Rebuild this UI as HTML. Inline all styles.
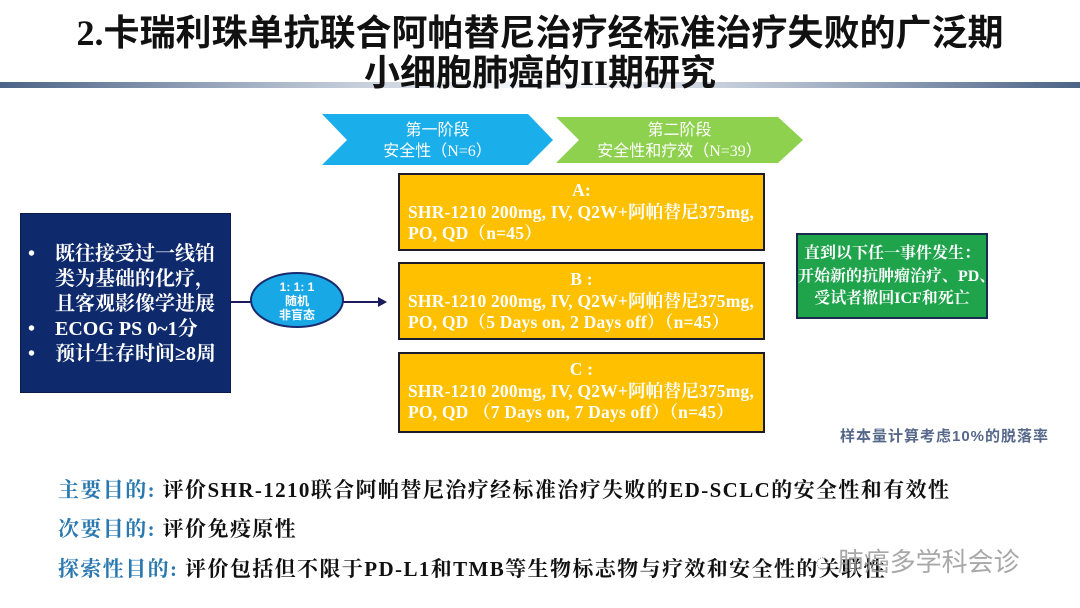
<!DOCTYPE html>
<html><head><meta charset="utf-8"><style>
*{margin:0;padding:0;box-sizing:border-box}
body{width:1080px;height:608px;background:#fff;position:relative;overflow:hidden;font-family:"Liberation Serif","Noto Serif CJK SC",serif}
.abs{position:absolute}
.title{left:0;width:1080px;text-align:center;font-size:36px;font-weight:bold;color:#111;font-family:"Liberation Serif","Noto Sans CJK SC",serif;line-height:40px}
.box{position:absolute;background:#ffc000;border:2px solid #1b1b2b;color:#fff;font-weight:bold;font-size:17.5px;line-height:21.5px;padding:5px 0 0 8px;letter-spacing:0.2px;white-space:nowrap}
.box .h{text-align:center;padding-right:8px}
.bt{left:58px;font-size:21px;line-height:24px;color:#111;font-weight:bold;letter-spacing:1.4px;white-space:nowrap}
.bt span{color:#2a78b0}
</style></head><body>
<div class="abs" style="left:0;top:82px;width:1080px;height:6px;background:linear-gradient(90deg,#4b6386 0%,#aab6c8 25%,#eef1f5 45%,#eef1f5 55%,#aab6c8 75%,#4b6386 100%)"></div>
<div class="abs title" style="top:13px">2.卡瑞利珠单抗联合阿帕替尼治疗经标准治疗失败的广泛期</div>
<div class="abs title" style="top:53px">小细胞肺癌的II期研究</div>

<svg class="abs" style="left:0;top:0" width="1080" height="608">
<polygon points="322,114 528,114 553,140 528,165 322,165 347,140" fill="#1aaeea"/>
<polygon points="556,117 778,117 803,140 778,163 556,163 579,140" fill="#8ed14f"/>
<line x1="230" y1="302" x2="380" y2="302" stroke="#1a1a5e" stroke-width="2"/>
<polygon points="378,297 387,302 378,307" fill="#1a1a5e"/>
<ellipse cx="297" cy="300" rx="46" ry="27" fill="#19a8e6" stroke="#1a2b6e" stroke-width="2"/>
</svg>
<div class="abs" style="left:322px;top:120px;width:231px;text-align:center;color:#fff;font-size:16px;line-height:21px;font-family:'Liberation Serif','Noto Sans CJK SC',serif">第一阶段<br>安全性（N=6）</div>
<div class="abs" style="left:556px;top:120px;width:247px;text-align:center;color:#fff;font-size:16px;line-height:21px;font-family:'Liberation Serif','Noto Sans CJK SC',serif">第二阶段<br>安全性和疗效（N=39）</div>
<div class="abs" style="left:251px;top:280px;width:92px;text-align:center;color:#fff;font-size:12px;line-height:14px;font-weight:bold;font-family:'Liberation Sans','Noto Sans CJK SC',sans-serif">1: 1: 1<br>随机<br>非盲态</div>

<div class="abs" style="left:20px;top:213px;width:211px;height:180px;background:#0e2a6c;border:1px solid #0a1c4a"></div>
<div class="abs" style="left:28px;top:242px;width:200px;color:#fff;font-size:20px;line-height:25px;font-weight:bold;white-space:nowrap">
<div style="display:flex"><span style="width:27px">•</span><span>既往接受过一线铂<br>类为基础的化疗，<br>且客观影像学进展</span></div>
<div style="display:flex"><span style="width:27px">•</span><span>ECOG PS 0~1分</span></div>
<div style="display:flex"><span style="width:27px">•</span><span>预计生存时间≥8周</span></div>
</div>

<div class="box" style="left:398px;top:173px;width:367px;height:78px"><div class="h">A:</div>SHR-1210 200mg, IV, Q2W+阿帕替尼375mg,<br>PO, QD（n=45）</div>
<div class="box" style="left:398px;top:262px;width:367px;height:78px"><div class="h">B :</div>SHR-1210 200mg, IV, Q2W+阿帕替尼375mg,<br>PO, QD（5 Days on, 2 Days off）（n=45）</div>
<div class="box" style="left:398px;top:352px;width:367px;height:81px"><div class="h">C :</div>SHR-1210 200mg, IV, Q2W+阿帕替尼375mg,<br>PO, QD （7 Days on, 7 Days off）（n=45）</div>

<div class="abs" style="left:796px;top:233px;width:192px;height:86px;background:#1fa44c;border:2px solid #1b2b4e;color:#fff;font-weight:bold;font-size:16px;line-height:22.5px;text-align:center;padding-top:8px;white-space:nowrap">直到以下任一事件发生：<br>开始新的抗肿瘤治疗、PD、<br>受试者撤回ICF和死亡</div>

<div class="abs" style="left:840px;top:425px;color:#56688a;font-size:15px;font-weight:bold;letter-spacing:1px;font-family:'Liberation Sans','Noto Sans CJK SC',sans-serif;white-space:nowrap">样本量计算考虑10%的脱落率</div>

<div class="abs bt" style="top:478px"><span>主要目的:</span> 评价SHR-1210联合阿帕替尼治疗经标准治疗失败的ED-SCLC的安全性和有效性</div>
<div class="abs bt" style="top:517px"><span>次要目的:</span> 评价免疫原性</div>
<div class="abs bt" style="top:557px"><span>探索性目的:</span> 评价包括但不限于PD-L1和TMB等生物标志物与疗效和安全性的关联性</div>
<div class="abs" style="left:815px;top:542px;color:#9a9a9a;font-size:26px;font-family:'Liberation Sans','Noto Sans CJK SC',sans-serif;opacity:.85;white-space:nowrap">◌ 肺癌多学科会诊</div>
</body></html>
